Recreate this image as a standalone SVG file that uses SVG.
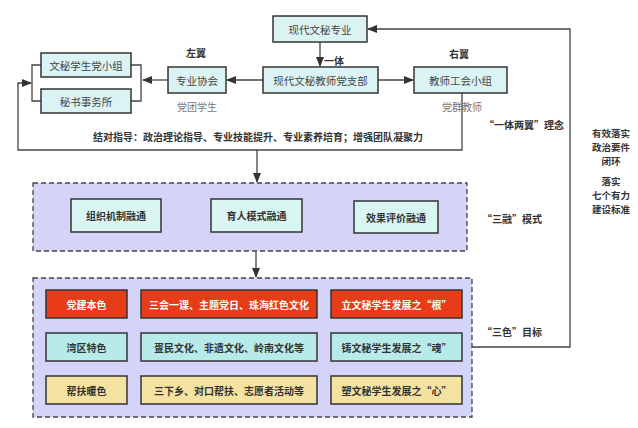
<svg xmlns="http://www.w3.org/2000/svg" width="638" height="428" viewBox="0 0 638 428">
<defs>
<style>
text{font-family:"Noto Sans CJK SC","Noto Sans",sans-serif;text-anchor:middle;dominant-baseline:central}
.box{fill:#dcf3f3;stroke:#333;stroke-width:1.5}
.t{font-size:10.5px;fill:#444}
.b{font-size:10px;font-weight:bold;fill:#333}
.lbl{font-size:10px;font-weight:bold;fill:#333}
.rt{font-size:9.5px;font-weight:bold;fill:#333}
.sub{font-size:10px;fill:#777}
.w{font-size:10px;font-weight:bold;fill:#fff}
.line{fill:none;stroke:#444;stroke-width:1.3}
.dash{fill:#d4d4f8;stroke:#444;stroke-width:1.3;stroke-dasharray:5 3}
.red{fill:#e83c18;stroke:#333;stroke-width:1.5}
.teal{fill:#b6ebe9;stroke:#333;stroke-width:1.5}
.yel{fill:#f3e2a0;stroke:#333;stroke-width:1.5}
.mid{fill:#d8f5f2;stroke:#333;stroke-width:1.5}
</style>
<marker id="ah" markerWidth="10" markerHeight="8" refX="9" refY="4" orient="auto" markerUnits="userSpaceOnUse">
<path d="M0,0 L10,4 L0,8 Z" fill="#333"/>
</marker>
</defs>
<rect width="638" height="428" fill="#fff"/>

<g id="connectors">
<line class="line" x1="320" y1="42" x2="320" y2="66" marker-end="url(#ah)"/>
<line class="line" x1="378" y1="80" x2="413" y2="80" marker-end="url(#ah)"/>
<line class="line" x1="263" y1="80" x2="227" y2="80" marker-end="url(#ah)"/>
<line class="line" x1="168" y1="80" x2="143" y2="80" marker-end="url(#ah)"/>
<path class="line" d="M41,65 H32 V101 H41"/>
<path class="line" d="M131,65 H141 V101 H131"/>
<path class="line" d="M462,93 V150 H18 V83 H31" marker-end="url(#ah)"/>
<line class="line" x1="257" y1="150" x2="257" y2="182" marker-end="url(#ah)"/>
<line class="line" x1="256" y1="251" x2="256" y2="277" marker-end="url(#ah)"/>
<path class="line" d="M472,347 H570 V29 H368" marker-end="url(#ah)"/>
<line class="line" x1="127" y1="304" x2="140" y2="304" marker-end="url(#ah)"/>
<line class="line" x1="317" y1="304" x2="330" y2="304" marker-end="url(#ah)"/>
<line class="line" x1="127" y1="347" x2="140" y2="347" marker-end="url(#ah)"/>
<line class="line" x1="317" y1="347" x2="330" y2="347" marker-end="url(#ah)"/>
<line class="line" x1="127" y1="390" x2="140" y2="390" marker-end="url(#ah)"/>
<line class="line" x1="317" y1="390" x2="330" y2="390" marker-end="url(#ah)"/>
</g>

<g id="n-major"><rect class="box" x="273" y="16" width="94" height="26"/><text class="t" x="320" y="29">现代文秘专业</text></g>
<text class="lbl" x="334" y="60">一体</text>
<g id="n-branch"><rect class="box" x="263" y="67" width="115" height="26"/><text class="t" x="320.5" y="80">现代文秘教师党支部</text></g>
<g id="n-union"><rect class="box" x="414" y="67" width="93" height="26"/><text class="t" x="460.5" y="80">教师工会小组</text></g>
<text class="lbl" x="459" y="53">右翼</text>
<text class="sub" x="462" y="106">党群教师</text>
<g id="n-assoc"><rect class="box" x="168" y="67" width="58" height="26"/><text class="t" x="197" y="80">专业协会</text></g>
<text class="lbl" x="196" y="52">左翼</text>
<text class="sub" x="197" y="106">党团学生</text>
<g id="n-group"><rect class="box" x="41" y="53" width="90" height="24"/><text class="t" x="86" y="65">文秘学生党小组</text></g>
<g id="n-office"><rect class="box" x="41" y="89" width="90" height="24"/><text class="t" x="86" y="101">秘书事务所</text></g>
<text class="lbl" x="258" y="136">结对指导：政治理论指导、专业技能提升、专业素养培育；增强团队凝聚力</text>
<text class="lbl" x="524" y="124">“一体两翼”理念</text>

<g id="right-text">
<text class="rt" x="611" y="133">有效落实</text>
<text class="rt" x="611" y="147">政治要件</text>
<text class="rt" x="611" y="161" font-weight="normal">闭环</text>
<text class="rt" x="611" y="181" font-weight="normal">落实</text>
<text class="rt" x="611" y="195">七个有力</text>
<text class="rt" x="611" y="209">建设标准</text>
</g>

<g id="n-sanrong">
<rect class="dash" x="33" y="183" width="434" height="68"/>
<g id="n-r1"><rect class="mid" x="71" y="199" width="90" height="33"/><text class="b" x="116" y="215.5">组织机制融通</text></g>
<g id="n-r2"><rect class="mid" x="211" y="199" width="91" height="33"/><text class="b" x="256.5" y="215.5">育人模式融通</text></g>
<g id="n-r3"><rect class="mid" x="354" y="201" width="84" height="32"/><text class="b" x="396" y="217">效果评价融通</text></g>
</g>
<text class="lbl" x="512" y="218">“三融”模式</text>

<g id="n-sanse">
<rect class="dash" x="33" y="278" width="439" height="139"/>
<g id="n-c11"><rect class="red" x="46" y="290" width="81" height="28"/><text class="w" x="86.5" y="304">党建本色</text></g>
<g id="n-c12"><rect class="red" x="141" y="290" width="176" height="28"/><text class="w" x="229" y="304">三会一课、主题党日、珠海红色文化</text></g>
<g id="n-c13"><rect class="red" x="331" y="290" width="131" height="28"/><text class="w" x="396.5" y="304">立文秘学生发展之“根”</text></g>
<g id="n-c21"><rect class="teal" x="46" y="333" width="81" height="28"/><text class="b" x="86.5" y="347">湾区特色</text></g>
<g id="n-c22"><rect class="teal" x="141" y="333" width="176" height="28"/><text class="b" x="229" y="347">疍民文化、非遗文化、岭南文化等</text></g>
<g id="n-c23"><rect class="teal" x="331" y="333" width="131" height="28"/><text class="b" x="396.5" y="347">铸文秘学生发展之“魂”</text></g>
<g id="n-c31"><rect class="yel" x="46" y="376" width="81" height="28"/><text class="b" x="86.5" y="390">帮扶暖色</text></g>
<g id="n-c32"><rect class="yel" x="141" y="376" width="176" height="28"/><text class="b" x="229" y="390">三下乡、对口帮扶、志愿者活动等</text></g>
<g id="n-c33"><rect class="yel" x="331" y="376" width="131" height="28"/><text class="b" x="396.5" y="390">塑文秘学生发展之“心”</text></g>
</g>
<text class="lbl" x="512" y="331">“三色”目标</text>
</svg>
